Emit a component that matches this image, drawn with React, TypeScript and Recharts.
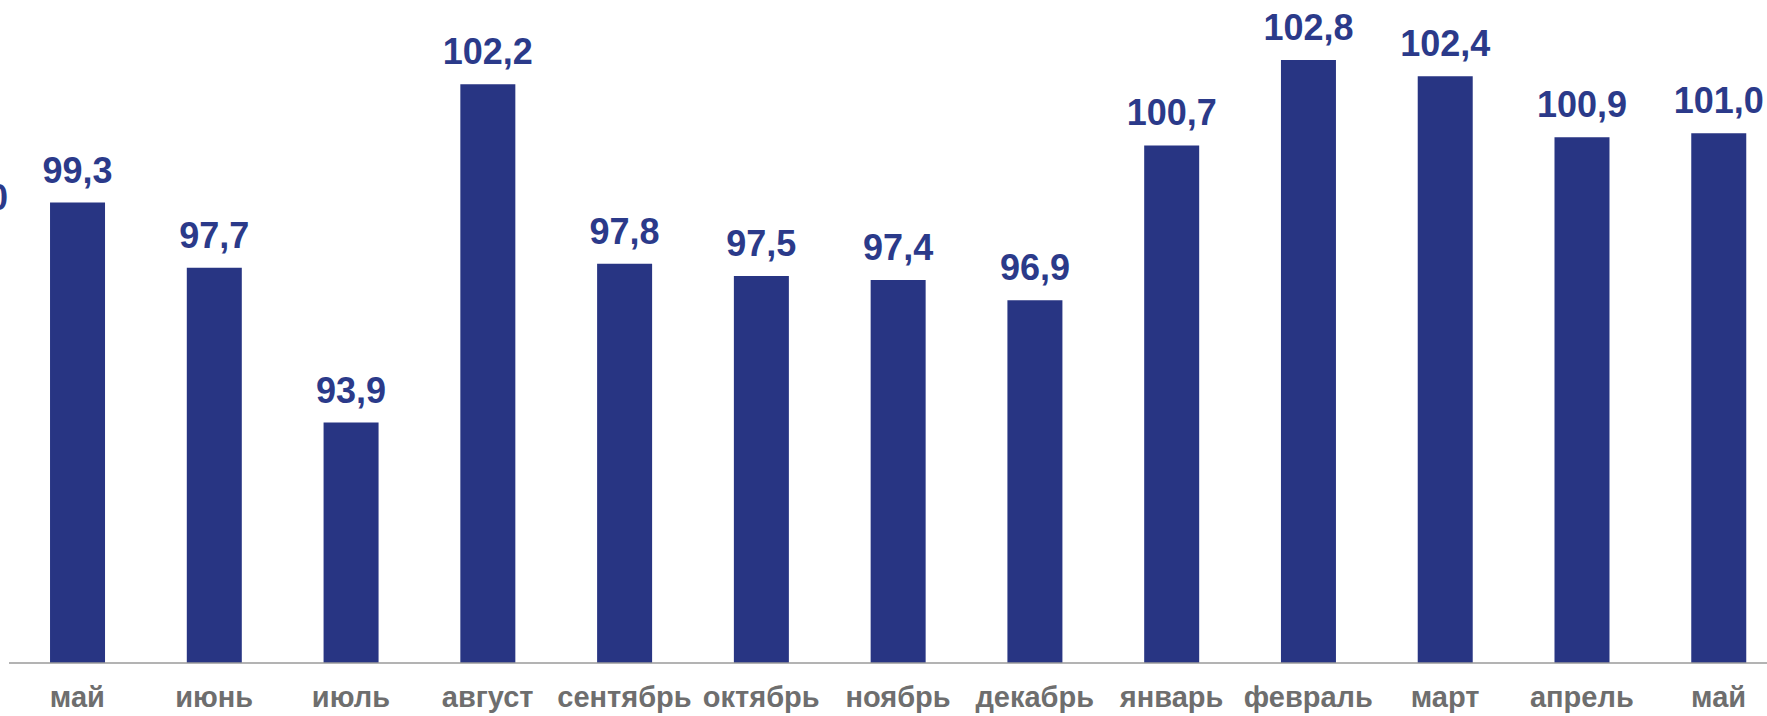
import { Bar, BarChart, LabelList, XAxis, YAxis } from "recharts";

const months = [
  "май",
  "июнь",
  "июль",
  "август",
  "сентябрь",
  "октябрь",
  "ноябрь",
  "декабрь",
  "январь",
  "февраль",
  "март",
  "апрель",
  "май",
];

const values = [99.3, 97.7, 93.9, 102.2, 97.8, 97.5, 97.4, 96.9, 100.7, 102.8, 102.4, 100.9, 101.0];

const BAR = "#283583";
const LABEL = "#2b3a8a";
const FONT = '"Liberation Sans", Arial, sans-serif';

const data = months.map((m, i) => ({ key: `${m}-${i}`, month: m, value: values[i] }));

const fmt = (v: number) => v.toFixed(1).replace(".", ",");

export default function App() {
  return (
    <div
      style={{
        position: "absolute",
        left: 0,
        top: 0,
        width: 1767,
        height: 716,
        overflow: "hidden",
        background: "#fff",
        fontFamily: FONT,
      }}
    >
      {/* edge of a label cut off by the slide crop */}
      <div
        style={{
          position: "absolute",
          right: 1759,
          top: 180,
          fontSize: 36,
          fontWeight: 700,
          color: LABEL,
          lineHeight: "36px",
        }}
      >
        100
      </div>
      <BarChart
        width={1787}
        height={716}
        data={data}
        margin={{ top: 11, right: 0, bottom: 0, left: 9 }}
        barCategoryGap="30%"
      >
        <XAxis
          dataKey="key"
          tickFormatter={(k: string) => k.split("-")[0]}
          interval={0}
          height={53}
          tickLine={false}
          tickMargin={17}
          axisLine={{ stroke: "#9a9a9a", strokeWidth: 1.5 }}
          tick={{ fill: "#6e6e6e", fontSize: 29, fontWeight: 700, fontFamily: FONT }}
        />
        <YAxis hide domain={[88, 104]} />
        <Bar dataKey="value" fill={BAR} isAnimationActive={false}>
          <LabelList
            dataKey="value"
            position="top"
            offset={20}
            formatter={(v: number) => fmt(v)}
            style={{ fill: LABEL, fontSize: 36, fontWeight: 700, fontFamily: FONT }}
          />
        </Bar>
      </BarChart>
    </div>
  );
}
